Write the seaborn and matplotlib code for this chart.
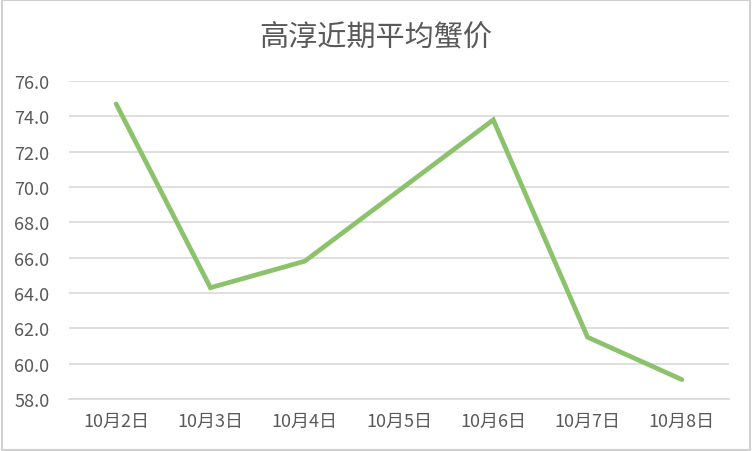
import pandas as pd
import seaborn as sns
import matplotlib.pyplot as plt
from matplotlib.patches import Rectangle
from matplotlib.ticker import FixedLocator

# Data
dates = ['10月2日', '10月3日', '10月4日', '10月5日', '10月6日', '10月7日', '10月8日']
prices = [74.7, 64.3, 65.8, 69.8, 73.8, 61.5, 59.1]
df = pd.DataFrame({'date': dates, 'price': prices})

sns.set_theme(style='white')
plt.rcParams['font.family'] = ['Noto Sans CJK SC', 'DejaVu Sans']

grey_text = '#595959'
grid_col = '#D9D9D9'

fig = plt.figure(figsize=(7.52, 4.52), dpi=100)
ax = fig.add_axes([0.0918, 0.115, 0.8776, 0.7036])

sns.lineplot(data=df, x='date', y='price', sort=False, ax=ax,
             color='#8BC26B', linewidth=3.4, solid_joinstyle='miter')

ax.set_ylim(58, 76)
ax.set_yticks([58 + 2 * i for i in range(10)])
ax.set_yticklabels([f'{58 + 2 * i:.1f}' for i in range(10)])
ax.set_xlim(-0.5, len(dates) - 0.5)
ax.set_xticks(range(len(dates)))
ax.set_xticklabels(dates)
ax.xaxis.set_minor_locator(FixedLocator([i - 0.5 for i in range(len(dates) + 1)]))

ax.set_xlabel('')
ax.set_ylabel('')
ax.grid(axis='y', color=grid_col, linewidth=1.2)
ax.set_axisbelow(True)

for side in ['top', 'right', 'left']:
    ax.spines[side].set_visible(False)
ax.spines['bottom'].set_color(grid_col)
ax.spines['bottom'].set_linewidth(1.2)

ax.tick_params(axis='x', which='major', length=0, pad=9, labelsize=13, labelcolor=grey_text)
ax.tick_params(axis='x', which='minor', length=5, width=1.2, color=grid_col)
ax.tick_params(axis='y', length=0, pad=14, labelsize=13, labelcolor=grey_text)

fig.text(0.5, 0.918, '高淳近期平均蟹价', ha='center', va='center',
         fontsize=21, color=grey_text)

# light border around the chart
fig.patches.append(Rectangle((0.002, 0.002), 0.996, 0.996, transform=fig.transFigure,
                             fill=False, edgecolor='#D0D0D0', linewidth=1.5))

fig.savefig('out.png', dpi=100)
